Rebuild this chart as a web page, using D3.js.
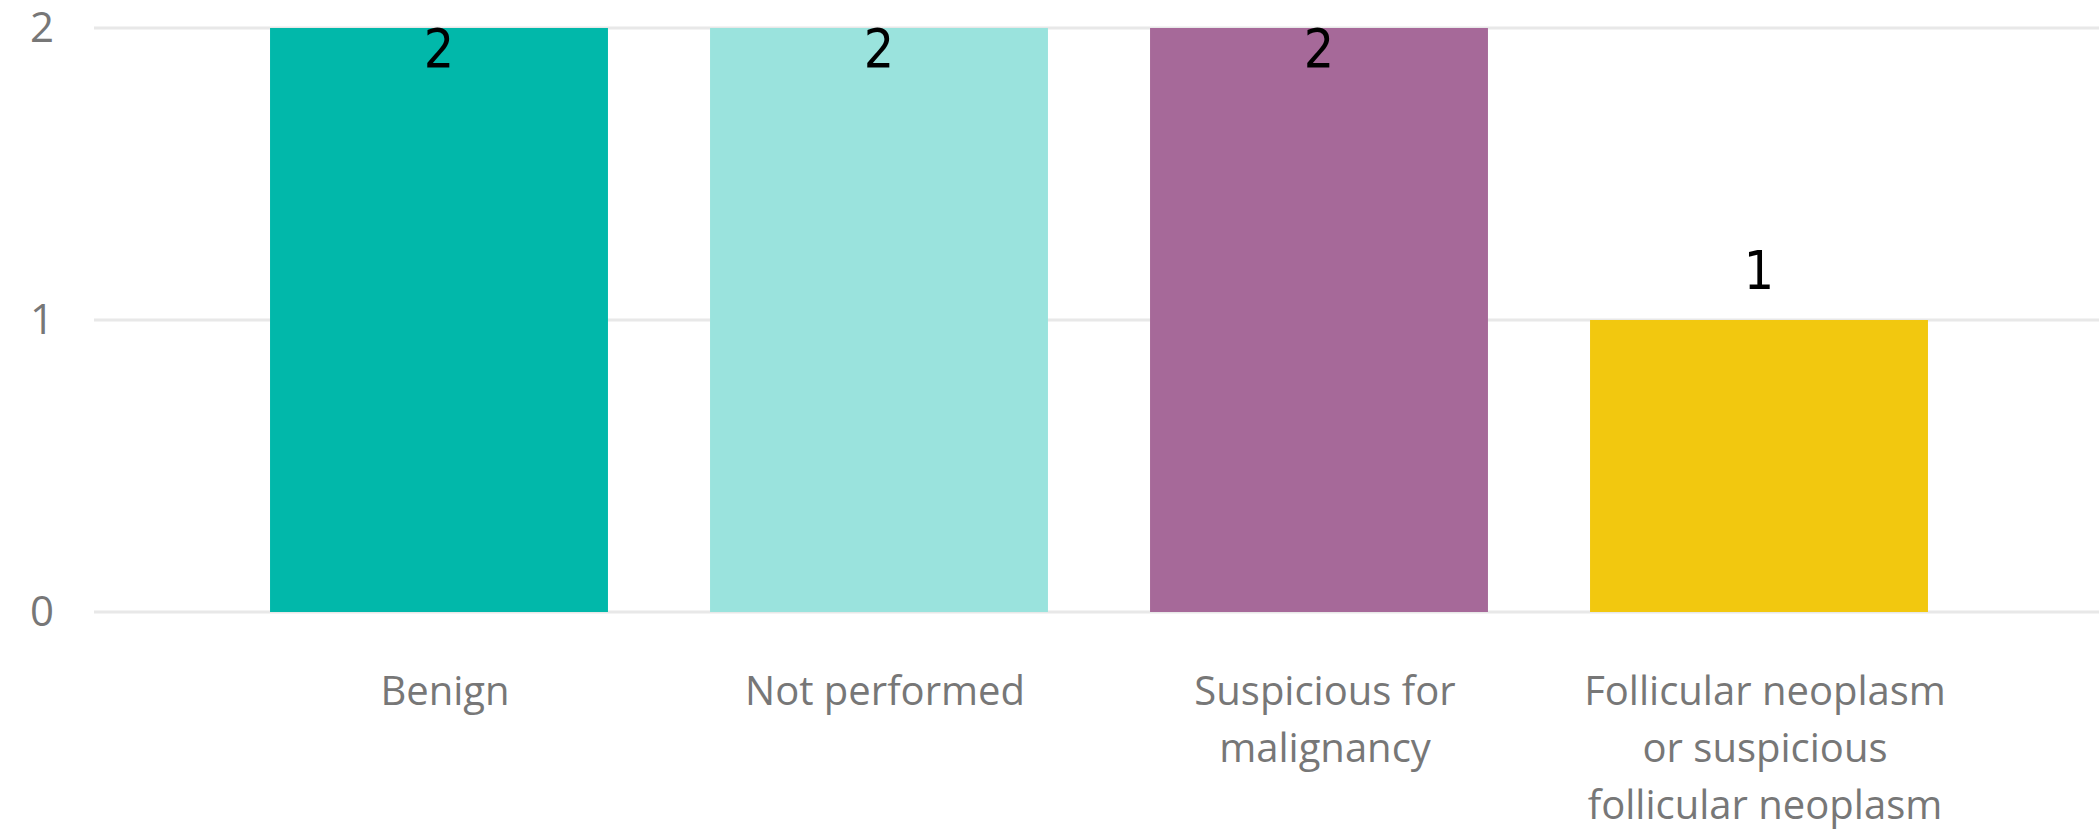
<!DOCTYPE html>
<html>
<head>
<meta charset="utf-8">
<script src="https://cdn.jsdelivr.net/npm/d3@7"></script>
<style>
  body { margin: 0; background: #fff; }
  svg { display: block; }
</style>
</head>
<body>
<script>
// chart data
var categories = ["Benign", "Not performed", "Suspicious for malignancy", "Follicular neoplasm or suspicious follicular neoplasm"];
var counts = [2, 2, 2, 1];
var barColors = ["#01B8AA", "#9AE3DD", "#A66999", "#F2C80F"];
var yTicks = [0, 1, 2];

var width = 2099, height = 840;

var svg = d3.select("body")
    .append("svg")
    .attr("width", width)
    .attr("height", height);

// scales
var x = d3.scaleBand()
    .domain(categories)
    .range([219, 1979])
    .paddingInner(0.232)
    .paddingOuter(0.116);

var y = d3.scaleLinear()
    .domain([0, 2])
    .range([612, 28]);

// gridlines
svg.append("g")
    .selectAll("line")
    .data(yTicks)
    .enter()
    .append("line")
    .attr("x1", 94)
    .attr("x2", width)
    .attr("y1", function(d) { return y(d); })
    .attr("y2", function(d) { return y(d); })
    .attr("stroke", "#e8e8e8")
    .attr("stroke-width", 3);

// y axis labels
var yAxis = svg.append("g")
    .attr("transform", "translate(54,0)")
    .call(d3.axisLeft(y).tickValues(yTicks).tickSize(0).tickPadding(0).tickFormat(d3.format("d")));
yAxis.select(".domain").remove();
yAxis.selectAll("text")
    .attr("font-family", "'Open Sans', sans-serif")
    .attr("font-size", 42)
    .attr("fill", "#777777");

// bars
svg.append("g")
    .selectAll("rect")
    .data(categories)
    .enter()
    .append("rect")
    .attr("x", function(d) { return x(d); })
    .attr("width", x.bandwidth())
    .attr("y", function(d, i) { return y(counts[i]); })
    .attr("height", function(d, i) { return y(0) - y(counts[i]); })
    .attr("fill", function(d, i) { return barColors[i]; });

// data labels: inside end when the bar is tall enough, otherwise above it
svg.append("g")
    .selectAll("text")
    .data(categories)
    .enter()
    .append("text")
    .attr("x", function(d) { return x(d) + x.bandwidth() / 2; })
    .attr("y", function(d, i) {
        return counts[i] === 2 ? y(counts[i]) + 39 : y(counts[i]) - 31;
    })
    .attr("text-anchor", "middle")
    .attr("font-family", "'Liberation Sans Narrow', 'DejaVu Sans Condensed', sans-serif")
    .attr("font-size", 53)
    .attr("fill", "#000")
    .text(function(d, i) { return counts[i]; });

// x axis labels, wrapped
var xAxis = svg.append("g")
    .attr("transform", "translate(6,612)")
    .call(d3.axisBottom(x).tickSize(0).tickPadding(0));
xAxis.select(".domain").remove();
xAxis.selectAll("text")
    .attr("font-family", "'Open Sans', sans-serif")
    .attr("font-size", 40)
    .attr("fill", "#777777")
    .attr("y", 93)
    .attr("dy", 0)
    .call(wrap, 400);

function wrap(texts, maxWidth) {
    texts.each(function() {
        var text = d3.select(this);
        var words = text.text().split(/\s+/);
        var yy = text.attr("y");
        text.text(null);
        var line = [];
        var lineNo = 0;
        var tspan = text.append("tspan").attr("x", 0).attr("y", yy);
        words.forEach(function(w) {
            line.push(w);
            tspan.text(line.join(" "));
            if (tspan.node().getComputedTextLength() > maxWidth && line.length > 1) {
                line.pop();
                tspan.text(line.join(" "));
                line = [w];
                lineNo++;
                tspan = text.append("tspan")
                    .attr("x", 0)
                    .attr("y", +yy + lineNo * 57)
                    .text(w);
            }
        });
    });
}
</script>
</body>
</html>
